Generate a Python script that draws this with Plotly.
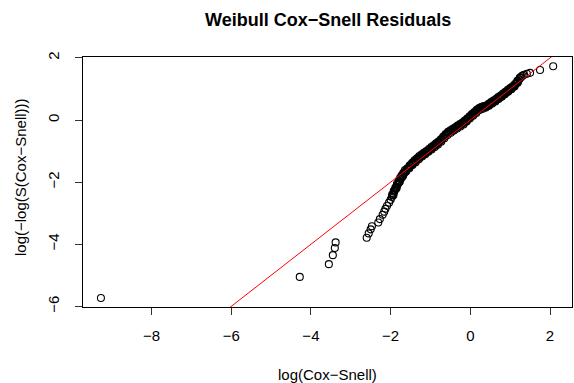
import plotly.graph_objects as go

# Cox-Snell residual diagnostic: x = log(residual), y = log(-log(S_KM(residual)))
log_cs = [
    -9.27, -4.28, -3.55, -3.45, -3.40, -3.38,
    -2.60, -2.55, -2.50, -2.47, -2.31, -2.27, -2.20, -2.16, -2.13, -2.09, -2.04, -2.00,
    -1.97, -1.95, -1.93, -1.91, -1.89, -1.87, -1.85, -1.83, -1.80, -1.78, -1.75, -1.72,
    -1.70, -1.67, -1.65, -1.62,
    -1.59, -1.56, -1.53, -1.50, -1.47, -1.44, -1.41, -1.38, -1.35, -1.32, -1.29, -1.26,
    -1.23, -1.20, -1.17, -1.14,
    -1.11, -1.08, -1.05, -1.02, -0.99, -0.96, -0.93, -0.90, -0.87, -0.84, -0.81, -0.78, -0.75,
    -0.72, -0.69, -0.66, -0.63, -0.60, -0.57,
    -0.54, -0.51, -0.48, -0.45, -0.42, -0.39, -0.36, -0.33, -0.30, -0.27, -0.24, -0.21, -0.18,
    -0.15, -0.12, -0.09, -0.06, -0.03, 0.00, 0.03, 0.06, 0.09, 0.12, 0.15, 0.18, 0.21, 0.24,
    0.27, 0.30, 0.33, 0.36, 0.39, 0.42,
    0.45, 0.48, 0.51, 0.54, 0.57, 0.60, 0.63, 0.66, 0.69, 0.72, 0.75,
    0.78, 0.81, 0.84, 0.87, 0.90, 0.93, 0.96, 0.99, 1.02, 1.05, 1.08,
    1.11, 1.14, 1.17, 1.20, 1.23, 1.26, 1.28, 1.31, 1.35, 1.42, 1.50, 1.75, 2.08,
]
log_neg_log_s = [
    -5.73, -5.05, -4.64, -4.35, -4.12, -3.94,
    -3.79, -3.65, -3.52, -3.42, -3.30, -3.19, -3.05, -2.95, -2.86, -2.76, -2.66, -2.57,
    -2.48, -2.42, -2.36, -2.31, -2.25, -2.20, -2.14, -2.09, -2.03, -1.97, -1.91, -1.85,
    -1.80, -1.74, -1.69, -1.64,
    -1.60, -1.56, -1.51, -1.47, -1.43, -1.40, -1.36, -1.32, -1.28, -1.24, -1.21, -1.18,
    -1.15, -1.13, -1.10, -1.07,
    -1.04, -1.01, -0.98, -0.95, -0.92, -0.89, -0.86, -0.83, -0.80, -0.77, -0.74, -0.71, -0.67,
    -0.63, -0.58, -0.54, -0.50, -0.46, -0.42,
    -0.40, -0.37, -0.35, -0.32, -0.30, -0.27, -0.25, -0.22, -0.20, -0.17, -0.15, -0.12, -0.10,
    -0.07, -0.03, 0.00, 0.04, 0.07, 0.11, 0.14, 0.18, 0.21, 0.25, 0.28, 0.32, 0.35, 0.38,
    0.39, 0.40, 0.41, 0.42, 0.43, 0.45,
    0.48, 0.50, 0.53, 0.56, 0.58, 0.61, 0.64, 0.66, 0.69, 0.72, 0.74,
    0.77, 0.80, 0.83, 0.86, 0.89, 0.92, 0.95, 0.98, 1.01, 1.04, 1.07,
    1.11, 1.16, 1.21, 1.26, 1.31, 1.36, 1.40, 1.43, 1.46, 1.49, 1.52, 1.61, 1.73,
]

# points read along the upper-left edge of the dense band
upper_x = [
    -1.96, -1.92, -1.88, -1.84, -1.80, -1.76, -1.72, -1.68, -1.64, -1.58, -1.52, -1.46, -1.40,
    -1.34, -1.28, -1.22, -1.16, -1.10, -1.04, -0.98, -0.92, -0.86, -0.80, -0.74, -0.68, -0.62,
    -0.56, -0.50, -0.44, -0.38, -0.32, -0.26, -0.20, -0.14, -0.08, -0.02, 0.04, 0.10, 0.16,
    0.22, 0.28, 0.34, 0.40, 0.46, 0.52, 0.58, 0.64, 0.70, 0.76, 0.82, 0.88, 0.94, 1.00, 1.06,
    1.12, 1.18, 1.24,
]
upper_y = [
    -2.40, -2.28, -2.17, -2.05, -1.95, -1.86, -1.78, -1.70, -1.61, -1.55, -1.46, -1.38, -1.30,
    -1.23, -1.16, -1.10, -1.05, -1.00, -0.93, -0.87, -0.81, -0.75, -0.69, -0.62, -0.53, -0.45,
    -0.38, -0.33, -0.28, -0.23, -0.18, -0.13, -0.08, -0.02, 0.05, 0.12, 0.19, 0.26, 0.33,
    0.39, 0.43, 0.45, 0.47, 0.52, 0.58, 0.63, 0.68, 0.74, 0.79, 0.85, 0.91, 0.97, 1.03, 1.09,
    1.16, 1.26, 1.36,
]
# points read along the lower-right edge of the dense band
lower_x = [
    -1.93, -1.85, -1.77, -1.69, -1.61, -1.53, -1.45, -1.37, -1.29, -1.21, -1.13, -1.05, -0.97,
    -0.89, -0.81, -0.73, -0.65, -0.57, -0.49, -0.41, -0.33, -0.25, -0.17, -0.09, -0.01, 0.07,
    0.15, 0.23, 0.31, 0.39, 0.47, 0.55, 0.63, 0.71, 0.79, 0.87, 0.95, 1.03, 1.11, 1.19,
]
lower_y = [
    -2.42, -2.20, -1.99, -1.80, -1.66, -1.55, -1.45, -1.36, -1.26, -1.17, -1.10, -1.02, -0.95,
    -0.87, -0.79, -0.70, -0.59, -0.48, -0.41, -0.34, -0.27, -0.21, -0.14, -0.05, 0.05, 0.14,
    0.23, 0.32, 0.36, 0.40, 0.46, 0.53, 0.60, 0.68, 0.75, 0.83, 0.91, 0.99, 1.08, 1.20,
]

# reference line y = a + b x
ref_intercept = 0.0
ref_slope = 1.0

x_ticks = [-8, -6, -4, -2, 0, 2]
y_ticks = [-6, -4, -2, 0, 2]
x_range = [-9.72, 2.552]
y_range = [-6.02, 2.03]

font_family = "Liberation Sans, Arial, sans-serif"

all_x = log_cs + upper_x + lower_x
all_y = log_neg_log_s + upper_y + lower_y

fig = go.Figure()
fig.add_trace(go.Scatter(
    x=all_x, y=all_y, mode="markers",
    marker=dict(symbol="circle-open", size=7, color="black", line=dict(width=1.1, color="black")),
    showlegend=False, hoverinfo="skip",
))
line_x = [x_range[0], x_range[1]]
line_y = [ref_intercept + ref_slope * v for v in line_x]
fig.add_trace(go.Scatter(
    x=line_x, y=line_y, mode="lines",
    line=dict(color="red", width=1),
    showlegend=False, hoverinfo="skip",
))

axis_common = dict(
    showgrid=False, zeroline=False, showline=True, linecolor="black", linewidth=1,
    mirror=True, ticks="outside", ticklen=7, tickwidth=1, tickcolor="#333333",
    tickfont=dict(family=font_family, size=15, color="black"),
)
fig.update_layout(
    width=574, height=383,
    margin=dict(l=83, r=2, t=57, b=76),
    paper_bgcolor="white", plot_bgcolor="white",
    xaxis=dict(range=x_range, tickvals=x_ticks, ticktext=[str(t).replace("-", "\u2212") for t in x_ticks],
               ticklabelstandoff=8, **axis_common),
    yaxis=dict(range=y_range, tickvals=y_ticks, ticktext=[str(t).replace("-", "\u2212") for t in y_ticks],
               tickangle=-90, ticklabelstandoff=10, **axis_common),
    annotations=[
        dict(text="<b>Weibull Cox\u2212Snell Residuals</b>", xref="paper", yref="paper",
             x=0.5, y=(307 - 20) / 250, xanchor="center", yanchor="middle", showarrow=False,
             font=dict(family=font_family, size=18, color="black")),
        dict(text="log(Cox\u2212Snell)", xref="paper", yref="paper",
             x=0.5, y=(307 - 374) / 250, xanchor="center", yanchor="middle", showarrow=False,
             font=dict(family=font_family, size=15, color="black")),
        dict(text="log(\u2212log(S(Cox\u2212Snell)))", xref="paper", yref="paper",
             x=(20 - 83) / 489, y=(307 - 177) / 250, xanchor="center", yanchor="middle",
             textangle=-90, showarrow=False,
             font=dict(family=font_family, size=15, color="black")),
    ],
)
fig.write_html("out.html")
